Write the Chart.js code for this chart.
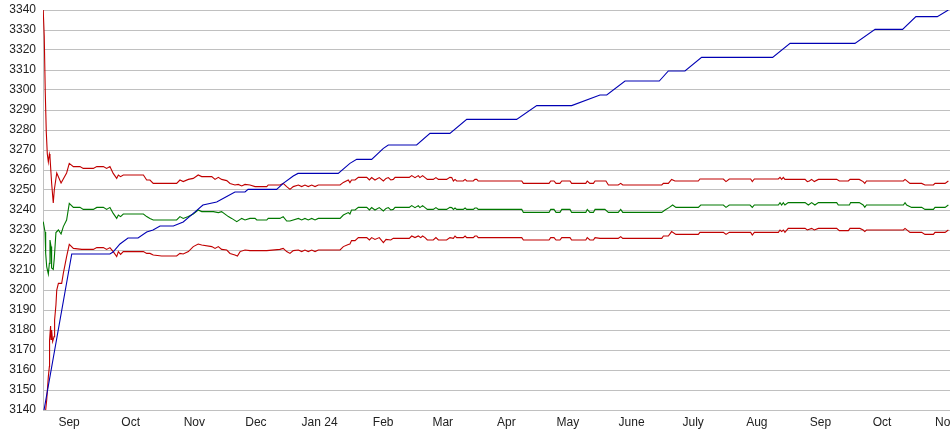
<!DOCTYPE html>
<html>
<head>
<meta charset="utf-8">
<script src="https://cdn.jsdelivr.net/npm/chart.js@4.4.1/dist/chart.umd.min.js"></script>
<style>
  body { margin: 0; background: #fff; }
</style>
</head>
<body>
<canvas id="myChart" width="950" height="435"></canvas>
<script>
// x values are days since the first sample (about 19 Aug 2023)

// month ticks
const monthDays = [12.7, 42.7, 73.7, 103.7, 134.7, 165.7, 194.7, 225.7, 255.7, 286.7, 316.7, 347.7, 378.7, 408.7, 439.7];
const monthLabels = ["Sep", "Oct", "Nov", "Dec", "Jan 24", "Feb", "Mar", "Apr", "May", "June", "July", "Aug", "Sep", "Oct", "Nov"];

// blue: rising step line
const blueLine = [
  [0.5,3140],[14.0,3218],[32.6,3218],[34.1,3219],[37.5,3223],[41.4,3226],[46.3,3226],[50.5,3229],[53.6,3230],[57.0,3232],
  [63.5,3232],[68.3,3234],[73.2,3238.3],[77.9,3242.5],[84.6,3244],[89.5,3246.7],[93.5,3249],[98.4,3249],[99.9,3250.3],[113.8,3250.3],
  [117.0,3253.3],[121.9,3257],[124.2,3258.3],[143.8,3258.3],[149.5,3263.3],[152.8,3265.3],[160.1,3265.3],[165.8,3270.8],[168.2,3272.5],[182.0,3272.5],
  [188.5,3278.3],[198.2,3278.3],[206.4,3285.3],[230.7,3285.3],[240.5,3292.2],[257.5,3292.2],[271.3,3297.5],[274.6,3297.5],[283.5,3304.5],[300.2,3304.5],
  [304.6,3309.5],[312.7,3309.5],[320.8,3316.3],[355.4,3316.3],[363.9,3323.3],[395.5,3323.3],[405.3,3330.3],[418.7,3330.3],[425.2,3336.7],[435.6,3336.7],
  [441.0,3340]
];

// upper red band
const upperLine = [
  [0.1,3340],[0.6,3327],[1.1,3299],[1.6,3279],[2.1,3268],[2.6,3264],[3.1,3268],[3.4,3266.5],[4.2,3253.5],[5.0,3243.5],
  [5.5,3250],[6.7,3258.5],[8.8,3253.5],[11.5,3258.5],[12.8,3263.3],[14.8,3261.7],[18.0,3261.7],[19.6,3260.8],[24.5,3260.8],[26.2,3261.7],
  [29.4,3261.7],[31.0,3260.8],[32.6,3261.7],[34.2,3258.3],[35.9,3255.8],[36.7,3257.5],[37.8,3256.7],[39.1,3257.5],[48.9,3257.5],[50.5,3255],
  [52.1,3255],[53.7,3253.3],[65.1,3253.3],[66.7,3255],[68.3,3254.2],[70.8,3255.3],[73.2,3255.8],[75.6,3257.5],[77.3,3256.7],[82.2,3256.7],
  [83.8,3255.3],[85.4,3256.3],[87.0,3255.3],[89.5,3254.7],[91.1,3253.3],[93.5,3252.5],[95.1,3252.8],[96.8,3252],[98.4,3252.8],[100.8,3252.5],
  [103.3,3251.7],[109.0,3251.7],[109.7,3252.5],[115.4,3252.5],[117.0,3253.3],[118.7,3251.7],[120.3,3250.3],[121.9,3251.7],[124.4,3252.5],[126.0,3251.7],
  [127.6,3252.5],[129.2,3251.7],[130.9,3252.5],[132.5,3251.7],[134.1,3252.5],[144.7,3252.5],[146.3,3253.8],[148.7,3255],[149.5,3253.7],[150.3,3255],
  [152.0,3255],[153.6,3256.3],[157.7,3256.3],[159.0,3255],[160.1,3256.2],[161.7,3255],[163.8,3256.2],[165.8,3254.5],[167.1,3255.8],[168.2,3256.2],
  [169.4,3255],[170.6,3255.3],[171.5,3256.3],[178.4,3256.3],[179.6,3257.2],[181.2,3256.2],[182.8,3257.2],[183.6,3256.2],[184.9,3257.2],[186.1,3256.2],
  [187.2,3255.3],[190.1,3255.3],[191.4,3256.2],[192.6,3255.3],[196.6,3255.3],[198.2,3256.3],[199.1,3256.2],[199.9,3254.5],[200.7,3255.3],[201.5,3254.5],
  [204.7,3254.5],[205.6,3255.3],[206.4,3254.5],[209.6,3254.5],[210.4,3255.3],[211.3,3255.3],[212.0,3254.5],[233.2,3254.5],[234.0,3253.3],[246.5,3253.3],
  [247.3,3254.5],[248.9,3254.5],[249.9,3253.3],[251.8,3253.3],[252.7,3254.5],[256.7,3254.5],[257.5,3253.3],[264.4,3253.3],[265.1,3254.5],[266.4,3253.3],
  [268.1,3253.3],[268.9,3254.5],[271.3,3254.5],[274.2,3254.5],[275.4,3252.5],[280.2,3252.5],[281.4,3253.3],[282.4,3252.5],[301.4,3252.5],[302.2,3253.3],
  [304.6,3253.3],[306.2,3255.3],[307.8,3254.5],[319.2,3254.5],[320.0,3255.5],[331.4,3255.5],[332.7,3254.2],[334.3,3255.5],[344.7,3255.5],[345.5,3254.2],
  [346.5,3255.5],[358.2,3255.5],[359.0,3256.3],[359.8,3255.3],[360.6,3256.3],[361.4,3255.3],[371.2,3255.3],[372.3,3254.2],[373.3,3254.5],[374.4,3255.3],
  [375.7,3254.2],[377.7,3255.3],[386.6,3255.3],[387.9,3254.5],[392.3,3254.5],[393.1,3255.3],[397.6,3255.3],[399.5,3254.2],[400.3,3253.3],[401.1,3254.5],
  [419.1,3254.5],[419.9,3255.3],[422.3,3253.3],[428.0,3253.3],[429.6,3252.5],[433.7,3252.5],[434.5,3253.3],[439.4,3253.3],[441.0,3254.5]
];

// green middle line
const middleLine = [
  [0.1,3234.2],[1.0,3229],[1.3,3218.3],[1.8,3211.7],[2.6,3208],[3.1,3213.3],[3.4,3225],[3.9,3221.7],[4.2,3211],[5.0,3210.3],
  [5.5,3215.8],[6.3,3228.7],[7.5,3230],[8.8,3228],[9.9,3231.7],[11.5,3235],[12.8,3243.3],[14.8,3241.3],[18.0,3241.3],[19.6,3240.3],
  [24.5,3240.3],[26.2,3241.3],[29.4,3241.3],[31.0,3240.3],[32.6,3241.3],[34.2,3238.3],[35.9,3235.8],[36.7,3237.5],[37.8,3236.7],[39.1,3238],
  [48.9,3238],[50.5,3236.7],[52.1,3235.8],[53.7,3235],[65.1,3235],[66.7,3236.7],[68.3,3235.8],[70.8,3236.7],[73.2,3238],[75.6,3240],
  [77.3,3239.2],[83.0,3239.2],[85.4,3238.7],[87.0,3239.2],[90.3,3236.7],[91.9,3235.8],[94.4,3234.2],[96.8,3235.8],[98.4,3235],[100.8,3235.8],
  [103.3,3235.8],[104.1,3235],[109.0,3235],[109.7,3235.8],[115.4,3235.8],[117.0,3236.7],[118.7,3234.5],[120.3,3234.5],[124.4,3235.8],[126.0,3235],
  [127.6,3235.8],[129.2,3235],[130.9,3235.8],[132.5,3235],[134.1,3235.8],[144.7,3235.8],[146.3,3237.5],[148.7,3238.7],[149.5,3238],[150.3,3240],
  [152.0,3240],[153.6,3241.3],[157.7,3241.3],[159.0,3240],[160.1,3241.2],[161.7,3240],[163.8,3241.2],[165.8,3239.5],[167.1,3240.8],[168.2,3241.2],
  [169.4,3240],[170.6,3240.3],[171.5,3241.3],[178.4,3241.3],[179.6,3242.2],[181.2,3241.2],[182.8,3242.2],[183.6,3241.2],[184.9,3242.2],[186.1,3241.2],
  [187.2,3240.3],[190.1,3240.3],[191.4,3241.2],[192.6,3240.3],[196.6,3240.3],[198.2,3241.3],[199.1,3241.2],[199.9,3240.3],[200.7,3241],[201.5,3240.3],
  [204.7,3240.3],[205.6,3241],[206.4,3240.3],[209.6,3240.3],[210.4,3241],[211.3,3241],[212.0,3240.3],[233.2,3240.3],[234.0,3238.8],[246.5,3238.8],
  [247.3,3240.3],[248.9,3240.3],[249.9,3238.8],[251.8,3238.8],[252.7,3240.3],[256.7,3240.3],[257.5,3238.8],[264.4,3238.8],[265.1,3240.3],[266.4,3238.8],
  [268.1,3238.8],[268.9,3240.3],[271.3,3240.3],[273.7,3240.3],[275.4,3238.8],[280.2,3238.8],[281.4,3240.3],[282.4,3238.8],[301.4,3238.8],[303.0,3240],
  [305.1,3241.3],[306.7,3242.5],[308.3,3241.3],[319.2,3241.3],[320.4,3242.5],[331.4,3242.5],[332.7,3241.3],[334.3,3242.5],[344.4,3242.5],[345.5,3241.3],
  [346.5,3242.5],[358.2,3242.5],[359.0,3243.7],[359.8,3242.5],[360.6,3243.7],[361.4,3242.5],[363.0,3243.7],[371.2,3243.7],[372.8,3242.5],[374.4,3243.7],
  [376.0,3242.5],[377.7,3243.7],[386.6,3243.7],[387.4,3242.5],[392.8,3242.5],[393.4,3243.7],[397.6,3243.7],[399.5,3242.5],[400.3,3241.3],[401.1,3242.5],
  [419.1,3242.5],[419.9,3243.7],[420.7,3242.5],[423.1,3241.3],[428.0,3241.3],[429.6,3240.3],[433.7,3240.3],[434.5,3241.3],[439.4,3241.3],[441.0,3242.5]
];

// lower red band
const lowerLine = [
  [1.3,3140],[1.8,3145],[2.6,3156.7],[3.1,3161.7],[3.2,3175],[3.7,3182],[3.9,3175.3],[4.2,3180],[4.7,3174.2],[5.4,3176.7],
  [5.5,3182],[5.8,3185],[6.3,3192.5],[6.7,3200],[7.5,3203.3],[9.1,3203.3],[9.9,3208.3],[11.5,3216.7],[12.8,3222.8],[14.8,3220.8],
  [18.9,3220.3],[24.5,3220.3],[26.2,3221.2],[29.4,3221.2],[31.0,3220.3],[32.6,3221.2],[34.2,3219.2],[35.9,3216.7],[36.7,3219.2],[37.8,3217.8],
  [39.1,3219.2],[48.9,3219.2],[50.5,3218.3],[52.1,3218.3],[53.7,3217.5],[57.8,3217],[65.1,3217],[66.7,3218.3],[68.3,3218],[70.8,3219.2],
  [73.2,3221.7],[75.6,3223],[77.3,3222.5],[82.2,3221.7],[83.8,3220.8],[85.4,3221.7],[87.0,3220.3],[89.5,3220],[91.1,3218.3],[93.5,3217.5],
  [94.7,3217],[96.0,3219.2],[98.4,3220],[100.8,3219.7],[109.0,3219.7],[115.4,3220.3],[117.0,3220.8],[118.7,3219.2],[120.3,3218.3],[121.9,3219.7],
  [124.4,3220],[126.0,3219.2],[127.6,3220],[129.2,3219.2],[130.9,3220],[132.5,3219.2],[134.1,3220],[144.7,3220],[146.3,3221.7],[148.7,3222.8],
  [149.5,3223],[150.3,3224.7],[152.0,3224.7],[153.6,3226.2],[157.7,3226.2],[159.0,3225],[160.1,3226.2],[161.7,3225.3],[163.8,3226.2],[165.8,3223.7],
  [167.1,3225.3],[169.4,3225],[170.6,3225.8],[178.4,3225.8],[179.6,3227],[181.2,3226.2],[182.8,3227],[184.0,3226.2],[184.9,3227],[186.1,3226.2],
  [187.2,3225],[190.1,3225],[191.4,3226.2],[192.6,3225],[196.6,3225],[198.2,3226.2],[199.9,3225.8],[200.7,3227],[201.5,3226.2],[204.7,3226.2],
  [205.6,3227],[206.4,3226.2],[209.6,3226.2],[210.4,3227],[211.3,3227],[212.0,3226.2],[233.2,3226.2],[234.0,3225],[246.5,3225],[247.3,3226.2],
  [248.9,3226.2],[249.9,3225],[251.8,3225],[252.7,3226.2],[256.7,3226.2],[257.5,3225],[264.4,3225],[265.1,3226.2],[266.4,3225],[268.1,3225],
  [268.9,3226.2],[271.3,3225.8],[280.2,3225.8],[281.4,3226.7],[282.4,3225.8],[301.4,3225.8],[302.2,3227],[304.6,3227],[306.2,3229.2],[308.3,3227.8],
  [319.2,3227.8],[320.0,3228.8],[331.4,3228.8],[332.7,3227.8],[334.3,3228.8],[344.7,3228.8],[345.5,3227.5],[346.5,3228.8],[358.2,3228.8],[359.0,3230],
  [359.8,3229.2],[360.6,3230],[361.4,3228.8],[363.0,3230.8],[371.2,3230.8],[372.3,3230],[374.4,3230.8],[375.7,3230],[377.7,3230.8],[386.6,3230.8],
  [387.9,3229.7],[392.3,3229.7],[393.1,3230.8],[397.9,3230.8],[399.5,3230],[400.3,3229.2],[401.1,3230],[419.1,3230],[419.9,3230.8],[422.3,3228.8],
  [428.0,3228.8],[429.6,3227.8],[433.7,3227.8],[434.5,3228.8],[439.4,3228.8],[441.0,3230]
];

function toPoints(arr) {
  return arr.map(p => ({ x: p[0], y: p[1] }));
}

function lineSet(arr, color) {
  return {
    data: toPoints(arr),
    borderColor: color,
    borderWidth: 1.1,
    pointRadius: 0,
    tension: 0,
    fill: false
  };
}

const tickFont = { family: "'Liberation Sans', Arial, sans-serif", size: 12 };

const config = {
  type: 'line',
  data: {
    datasets: [
      lineSet(blueLine, '#0000b4'),
      lineSet(upperLine, '#c00000'),
      lineSet(middleLine, '#007800'),
      lineSet(lowerLine, '#c00000')
    ]
  },
  options: {
    responsive: false,
    animation: false,
    layout: { padding: { top: 10, right: 0, bottom: 0, left: 0 } },
    plugins: { legend: { display: false }, tooltip: { enabled: false } },
    scales: {
      x: {
        type: 'linear',
        min: 0,
        max: 441.8,
        afterBuildTicks: scale => {
          scale.ticks = monthDays.map(v => ({ value: v }));
        },
        afterFit: scale => {
          scale.height = 25;
          scale.paddingLeft = 0;
          scale.paddingRight = 0;
        },
        grid: { display: false, drawTicks: false },
        border: { display: true, color: '#c0c0c0' },
        ticks: {
          autoSkip: false,
          maxRotation: 0,
          padding: 5,
          color: '#222',
          font: tickFont,
          callback: (v, i) => monthLabels[i]
        }
      },
      y: {
        min: 3140,
        max: 3340,
        afterFit: scale => {
          scale.width = 43;
          scale.paddingTop = 0;
          scale.paddingBottom = 0;
        },
        grid: { color: '#c0c0c0', lineWidth: 1, drawTicks: false },
        border: { display: true, color: '#c0c0c0' },
        ticks: {
          stepSize: 10,
          padding: 7,
          color: '#222',
          font: tickFont,
          callback: v => String(v)
        }
      }
    }
  }
};

const myChart = new Chart(document.getElementById('myChart'), config);
</script>
</body>
</html>
